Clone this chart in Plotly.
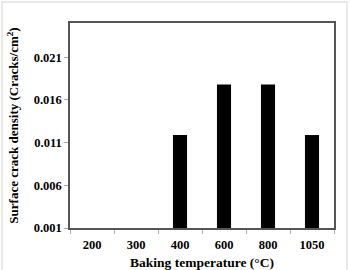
import plotly.graph_objects as go

categories = ["200", "300", "400", "600", "800", "1050"]
crack_density = [None, None, 0.0119, 0.0178, 0.0178, 0.0119]
y_ticks = [0.001, 0.006, 0.011, 0.016, 0.021]
y_tick_labels = ["0.001", "0.006", "0.011", "0.016", "0.021"]

font_family = "Liberation Serif"

fig = go.Figure()
fig.add_trace(go.Bar(
    x=categories, y=[v - 0.001 if v is not None else None for v in crack_density],
    base=0.001,
    marker=dict(color="black", line=dict(width=0)),
    width=0.32,
))

fig.update_layout(
    width=350, height=270,
    margin=dict(l=70, r=16, t=23, b=42, autoexpand=False),
    paper_bgcolor="white", plot_bgcolor="white",
    showlegend=False,
    font=dict(family=font_family, color="black"),
    xaxis=dict(
        type="category", automargin=False,
        showline=True, linecolor="#555555", linewidth=1.5, mirror=True,
        ticks="outside", tickson="boundaries", ticklen=4, tickcolor="#aaaaaa",
        ticklabelstandoff=4,
        tickfont=dict(family=font_family, size=12.5, color="black", weight="bold"),
        title=dict(text="<b>Baking temperature (°C)</b>", font=dict(family=font_family, size=13.5), standoff=9),
        showgrid=False,
    ),
    yaxis=dict(
        range=[0.001, 0.025], automargin=False,
        tickvals=y_ticks, ticktext=y_tick_labels,
        showline=True, linecolor="#555555", linewidth=1.5, mirror=True,
        ticks="outside", ticklen=4, tickcolor="#aaaaaa",
        tickfont=dict(family=font_family, size=12.5, color="black", weight="bold"),
        title=dict(text="<b>Surface crack density (Cracks/cm<sup>2</sup>)</b>", font=dict(family=font_family, size=13), standoff=12),
        showgrid=False, zeroline=False,
    ),
)

fig.add_shape(type="rect", xref="paper", yref="paper",
              x0=-68/264, x1=(347-70)/264, y0=-50/205, y1=(228-2)/205,
              line=dict(color="#e2e2e2", width=1.5), fillcolor="rgba(0,0,0,0)", layer="below")

fig.write_html("out.html")
